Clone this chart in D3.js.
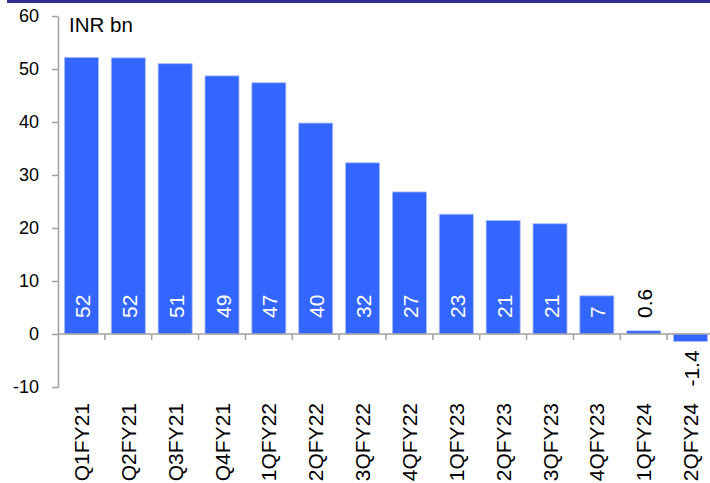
<!DOCTYPE html>
<html>
<head>
<meta charset="utf-8">
<script src="https://cdn.jsdelivr.net/npm/d3@7"></script>
<style>
  html, body { margin: 0; padding: 0; background: #fff; }
  svg { display: block; font-family: Arial, "Liberation Sans", Helvetica, sans-serif; }
</style>
</head>
<body>
<svg id="chart" width="710" height="483"></svg>
<script>
// Quarterly values, INR bn
const categories = ["Q1FY21", "Q2FY21", "Q3FY21", "Q4FY21", "1QFY22", "2QFY22", "3QFY22",
                    "4QFY22", "1QFY23", "2QFY23", "3QFY23", "4QFY23", "1QFY24", "2QFY24"];
const values = [52.2, 52.1, 51.0, 48.7, 47.4, 39.8, 32.3, 26.8, 22.6, 21.4, 20.8, 7.2, 0.6, -1.4];
const yTicks = [-10, 0, 10, 20, 30, 40, 50, 60];
const unitLabel = "INR bn";

const svg = d3.select("#chart");

const x = d3.scaleBand()
  .domain(categories)
  .range([58, 714])
  .paddingInner(0.274)
  .paddingOuter(0.137);

const y = d3.scaleLinear()
  .domain([-10, 60])
  .range([387, 16]);

const axisColor = "#a0a0a0";
const barColor = "#3366ff";

// header rule
svg.append("rect")
  .attr("x", 7).attr("y", 0)
  .attr("width", 703).attr("height", 3)
  .attr("fill", "#2e3192");

// bars
svg.append("g")
  .selectAll("rect")
  .data(values)
  .join("rect")
  .attr("x", (d, i) => x(categories[i]))
  .attr("width", x.bandwidth())
  .attr("y", d => y(Math.max(0, d)))
  .attr("height", d => Math.abs(y(d) - y(0)))
  .attr("fill", barColor)
  .attr("stroke", "#a8bcff")
  .attr("stroke-width", 0.8);

// y axis (plain hyphen for negatives)
const yAxis = svg.append("g")
  .attr("transform", `translate(${x.range()[0]},0)`)
  .call(d3.axisLeft(y).tickValues(yTicks).tickFormat(d => String(d))
    .tickSize(6).tickPadding(13).tickSizeOuter(0));
yAxis.select(".domain").attr("stroke", axisColor).attr("stroke-width", 1.5);
yAxis.selectAll(".tick line").attr("stroke", axisColor).attr("stroke-width", 1.5);
yAxis.selectAll(".tick text")
  .attr("fill", "#000")
  .style("font-size", "18px")
  .style("font-family", "Arial, 'Liberation Sans', sans-serif");

// x axis along zero, with ticks at category boundaries
const x0 = y(0);
svg.append("line")
  .attr("x1", x.range()[0]).attr("x2", x.range()[1])
  .attr("y1", x0).attr("y2", x0)
  .attr("stroke", axisColor).attr("stroke-width", 1.5);

const boundaries = categories.slice(1).map(c => x(c) - x.step() * x.paddingInner() / 2);
svg.append("g")
  .selectAll("line")
  .data(boundaries)
  .join("line")
  .attr("x1", d => d).attr("x2", d => d)
  .attr("y1", x0).attr("y2", x0 + 6)
  .attr("stroke", axisColor).attr("stroke-width", 1.5);

// category labels, rotated
svg.append("g")
  .selectAll("text")
  .data(categories)
  .join("text")
  .attr("transform", d => `translate(${x(d) + x.bandwidth() / 2},403) rotate(-90)`)
  .attr("dy", "0.36em")
  .attr("text-anchor", "end")
  .attr("fill", "#000")
  .style("font-size", "21px")
  .text(d => d);

// value labels: whole numbers for large bars, one decimal for small ones
const fmt = v => (Math.abs(v) < 2 ? v.toFixed(1) : String(Math.round(v)));
svg.append("g")
  .selectAll("text")
  .data(values)
  .join("text")
  .attr("transform", (d, i) => {
    const cx = x(categories[i]) + x.bandwidth() / 2 + 1;
    const ty = d < 0 ? y(d) + 9 : x0 - 16;
    return `translate(${cx},${ty}) rotate(-90)`;
  })
  .attr("dy", "0.36em")
  .attr("text-anchor", d => (d < 0 ? "end" : "start"))
  .attr("fill", d => (d >= 2 ? "#fff" : "#000"))
  .style("font-size", "21px")
  .text(d => fmt(d));

// unit label
svg.append("text")
  .attr("x", 69).attr("y", 32)
  .attr("fill", "#000")
  .style("font-size", "20.5px")
  .text(unitLabel);
</script>
</body>
</html>
